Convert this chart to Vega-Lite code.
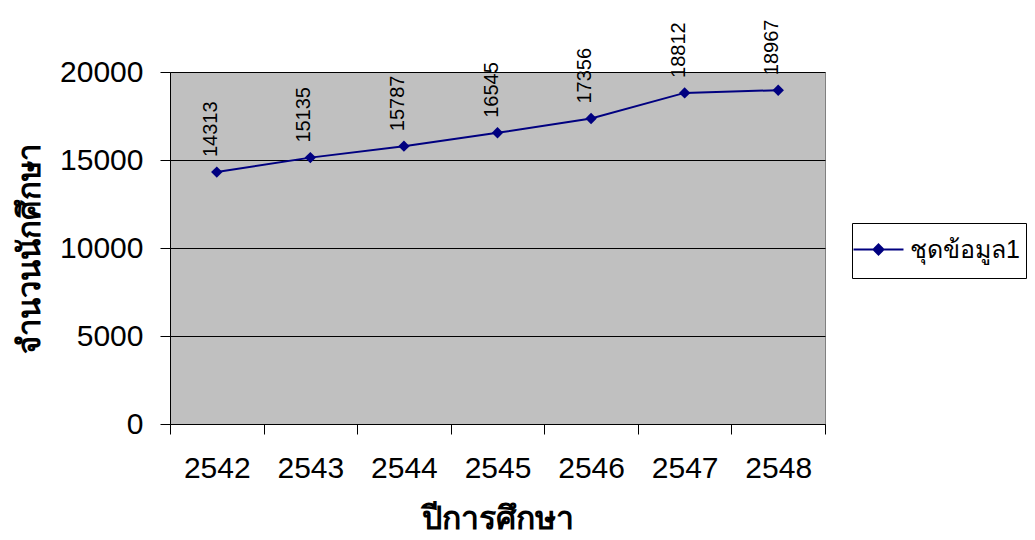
{
  "$schema": "https://vega.github.io/schema/vega-lite/v6.json",
  "width": 655,
  "height": 352,
  "autosize": {"type": "none"},
  "padding": {"left": 170, "top": 72, "right": 210, "bottom": 116},
  "background": "white",
  "data": {
    "values": [
      {"year": "2542", "students": 14313, "series": "ชุดข้อมูล1"},
      {"year": "2543", "students": 15135, "series": "ชุดข้อมูล1"},
      {"year": "2544", "students": 15787, "series": "ชุดข้อมูล1"},
      {"year": "2545", "students": 16545, "series": "ชุดข้อมูล1"},
      {"year": "2546", "students": 17356, "series": "ชุดข้อมูล1"},
      {"year": "2547", "students": 18812, "series": "ชุดข้อมูล1"},
      {"year": "2548", "students": 18967, "series": "ชุดข้อมูล1"}
    ]
  },
  "encoding": {
    "x": {
      "field": "year",
      "type": "nominal",
      "bandPosition": 0.5,
      "scale": {"type": "band", "paddingInner": 0, "paddingOuter": 0},
      "axis": {
        "title": "ปีการศึกษา",
        "labelAngle": 0,
        "tickBand": "extent",
        "tickSize": 10,
        "tickColor": "black",
        "domainColor": "black",
        "labelPadding": 19,
        "labelFontSize": 30,
        "titleFontSize": 32,
        "titlePadding": 20,
        "grid": false
      }
    },
    "y": {
      "field": "students",
      "type": "quantitative",
      "scale": {"domain": [0, 20000], "nice": false},
      "axis": {
        "title": "จำนวนนักศึกษา",
        "values": [0, 5000, 10000, 15000, 20000],
        "format": "d",
        "tickSize": 10,
        "tickColor": "black",
        "domainColor": "black",
        "labelPadding": 17,
        "labelFontSize": 30,
        "titleFontSize": 31,
        "titlePadding": 13,
        "grid": true,
        "gridColor": "black",
        "gridOpacity": 1
      }
    }
  },
  "layer": [
    {
      "mark": {"type": "line", "strokeWidth": 2},
      "encoding": {
        "color": {
          "field": "series",
          "type": "nominal",
          "scale": {"range": ["#000080"]},
          "legend": {
            "title": null,
            "orient": "none",
            "legendX": 682,
            "legendY": 151,
            "strokeColor": "black",
            "fillColor": "white",
            "padding": 6,
            "labelFontSize": 25,
            "labelOffset": 11,
            "symbolType": "M0,-0.9M0,0.9M-1.282,0H1.282M0,-0.256L0.256,0L0,0.256L-0.256,0Z",
            "symbolSize": 1521,
            "symbolStrokeWidth": 2,
            "symbolFillColor": "#000080",
            "symbolStrokeColor": "#000080"
          }
        }
      }
    },
    {
      "mark": {"type": "point", "shape": "diamond", "filled": true, "size": 130, "opacity": 1},
      "encoding": {
        "color": {"field": "series", "type": "nominal"}
      }
    },
    {
      "mark": {"type": "text", "angle": 270, "align": "left", "baseline": "middle", "dx": 15, "dy": -6, "fontSize": 20, "color": "black"},
      "encoding": {
        "text": {"field": "students", "type": "quantitative", "format": "d"}
      }
    }
  ],
  "config": {
    "font": "Liberation Sans",
    "view": {"fill": "#C0C0C0", "stroke": "#808080", "strokeWidth": 1},
    "axis": {
      "labelColor": "black",
      "titleColor": "black",
      "labelFont": "Liberation Sans",
      "titleFont": "Liberation Sans",
      "titleFontWeight": "bold",
      "domainWidth": 1,
      "tickWidth": 1
    },
    "legend": {"labelFont": "Liberation Sans", "labelColor": "black"}
  }
}
